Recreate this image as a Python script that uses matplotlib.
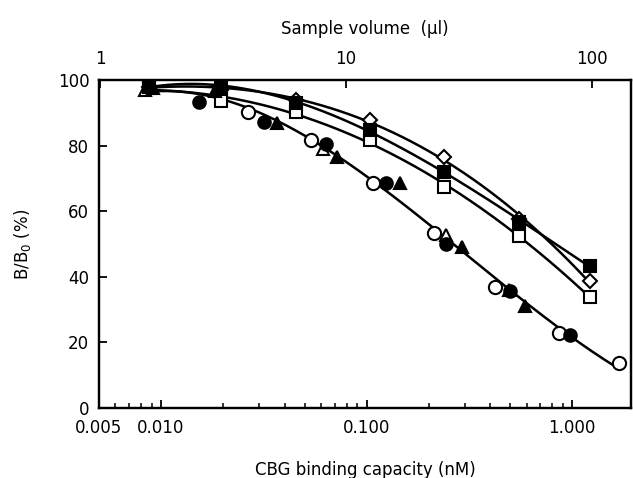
import numpy as np
import matplotlib
matplotlib.use("Agg")
import matplotlib.pyplot as plt
from matplotlib.ticker import FixedLocator, NullLocator, LogLocator, NullFormatter

# ---- data ----
# lower group (steep curve)
oc_x = [0.0264, 0.0534, 0.107, 0.212, 0.422, 0.859, 1.68]
oc_y = [90.3, 81.7, 68.7, 53.3, 37.0, 23.0, 13.6]
fc_x = [0.0153, 0.0316, 0.0632, 0.1236, 0.244, 0.50, 0.977]
fc_y = [93.4, 87.3, 80.5, 68.5, 50.0, 35.8, 22.3]
ft_x = [0.0092, 0.0184, 0.0368, 0.0721, 0.146, 0.292, 0.592]
ft_y = [97.5, 96.5, 87.0, 76.4, 68.5, 49.2, 31.1]
ot_x = [0.0084, 0.0616, 0.244, 0.49]
ot_y = [97.0, 79.0, 52.8, 36.0]

# upper group
fs_x = [0.00875, 0.0197, 0.0452, 0.1044, 0.237, 0.548, 1.22]
fs_y = [98.0, 98.0, 93.1, 84.8, 72.1, 56.8, 43.3]
os_x = [0.00875, 0.0197, 0.0452, 0.1044, 0.237, 0.548, 1.22]
os_y = [97.5, 93.5, 90.3, 81.7, 67.5, 52.3, 33.9]
dm_x = [0.00875, 0.0197, 0.0452, 0.1044, 0.237, 0.548, 1.22]
dm_y = [98.0, 97.0, 94.0, 87.8, 76.4, 57.5, 38.7]

x_ticks = [0.005, 0.010, 0.100, 1.000]
x_ticklabels = ["0.005", "0.010", "0.100", "1.000"]
top_ticks = [1, 10, 100]
top_ticklabels = ["1", "10", "100"]
y_ticks = [0, 20, 40, 60, 80, 100]

plt.rcParams['font.family'] = ['DejaVu Sans']

fig = plt.figure(figsize=(6.33, 4.78), dpi=100)
ax = fig.add_axes([99/633, 1-408/478, (631-99)/633, (408-80)/478])

def fit_curve(xs, ys):
    lx = np.log10(np.asarray(xs, float))
    p = np.polyfit(lx, np.asarray(ys, float), 3)
    xx = np.linspace(lx.min(), lx.max(), 200)
    return 10**xx, np.polyval(p, xx)

lw = 1.8
low_x = oc_x + fc_x + ft_x + ot_x
low_y = oc_y + fc_y + ft_y + ot_y
for xs, ys in [(low_x, low_y), (fs_x, fs_y), (os_x, os_y), (dm_x, dm_y)]:
    cx, cy = fit_curve(xs, ys)
    ax.plot(cx, cy, color='black', lw=lw, zorder=2)

mew = 1.5
ax.plot(dm_x, dm_y, 'D', ms=7.5, mfc='white', mec='black', mew=mew, ls='none', zorder=3)
ax.plot(os_x, os_y, 's', ms=8.5, mfc='white', mec='black', mew=mew, ls='none', zorder=3)
ax.plot(fs_x, fs_y, 's', ms=8.5, mfc='black', mec='black', mew=mew, ls='none', zorder=4)
ax.plot(oc_x, oc_y, 'o', ms=9.5, mfc='white', mec='black', mew=mew, ls='none', zorder=3)
ax.plot(ot_x, ot_y, '^', ms=9, mfc='white', mec='black', mew=mew, ls='none', zorder=3)
ax.plot(fc_x, fc_y, 'o', ms=9, mfc='black', mec='black', mew=mew, ls='none', zorder=4)
ax.plot(ft_x, ft_y, '^', ms=9, mfc='black', mec='black', mew=mew, ls='none', zorder=4)

ax.set_xscale('log')
ax.set_xlim(0.005, 1.93)
ax.set_ylim(0, 100)
ax.xaxis.set_major_locator(FixedLocator(x_ticks))
ax.set_xticklabels(x_ticklabels)
ax.xaxis.set_minor_locator(LogLocator(base=10, subs=np.arange(2, 10)))
ax.xaxis.set_minor_formatter(NullFormatter())
ax.set_yticks(y_ticks)
ax.set_yticklabels([str(v) for v in y_ticks])
ax.tick_params(axis='x', which='major', direction='in', length=6, width=1.3, pad=8, labelsize=12)
ax.tick_params(axis='x', which='minor', direction='in', length=3.5, width=1.1)
ax.tick_params(axis='y', which='major', direction='in', length=6, width=1.3, pad=7, labelsize=12)
ax.tick_params(top=False, right=False)
for s in ['left', 'bottom', 'top', 'right']:
    ax.spines[s].set_linewidth(1.6)

ax.set_xlabel("CBG binding capacity (nM)", fontsize=12, labelpad=17)
ax.set_ylabel("B/B$_0$ (%)", fontsize=12, labelpad=18)

top = ax.twiny()
top.set_xscale('log')
top.set_xlim(0.99, 144)
top.xaxis.set_major_locator(FixedLocator(top_ticks))
top.set_xticklabels(top_ticklabels)
top.xaxis.set_minor_locator(NullLocator())
top.tick_params(axis='x', which='major', direction='in', length=6, width=1.3, pad=9, labelsize=12)
top.set_xlabel("Sample volume  (\u00b5l)", fontsize=12, labelpad=11)
for s in ['left', 'bottom', 'top', 'right']:
    top.spines[s].set_linewidth(1.6)

fig.savefig("out.png", dpi=100)
